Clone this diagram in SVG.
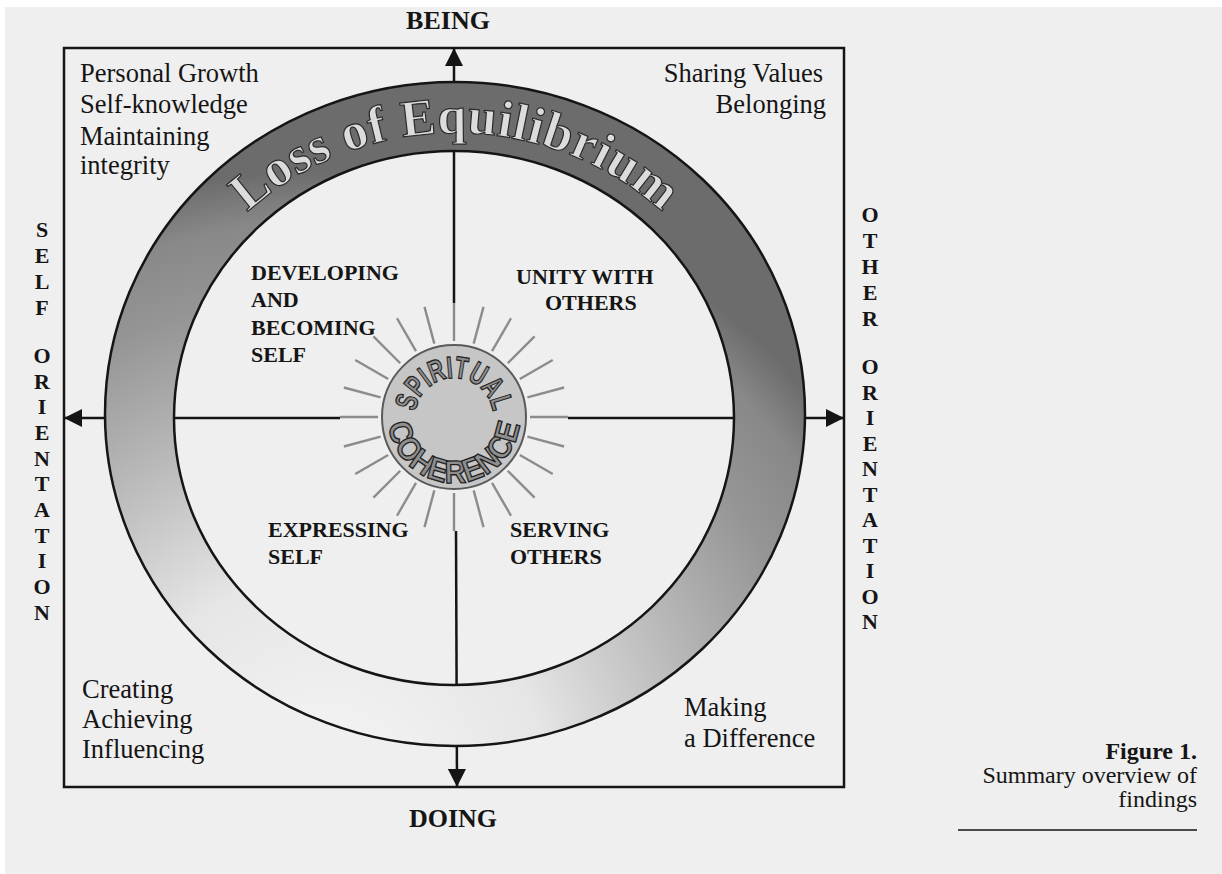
<svg xmlns="http://www.w3.org/2000/svg" width="1222" height="874" viewBox="0 0 1222 874">
<defs>
<style>
.serif{font-family:"Liberation Serif","Times New Roman",serif;fill:#151515}
.corner{font-size:26.5px}
.quad{font-size:22px;font-weight:bold}
.side{font-size:22px;font-weight:bold;text-anchor:middle}
.axisLbl{font-size:26px;font-weight:bold;text-anchor:middle}
.cap{font-size:24px;text-anchor:end}
.axis{stroke:#151515;stroke-width:2.5;fill:none}
.ray{stroke:#8c8c8c;stroke-width:2.4}
.sunText{font-family:"Liberation Sans Narrow","Liberation Sans",Arial,sans-serif;font-weight:bold;fill:#8e8e8e;stroke:#222222;stroke-width:1.3}
.loss{font-family:"Liberation Serif","Times New Roman",serif;font-weight:bold;font-size:52px;fill:#dcdcdc;stroke:#2a2a2a;stroke-width:1.2}
</style>
<marker id="arrow" markerUnits="userSpaceOnUse" markerWidth="18" markerHeight="18" refX="18" refY="9" orient="auto" viewBox="0 0 18 18">
<path d="M0,0 L18,9 L0,18 z" fill="#151515"/>
</marker>
<radialGradient id="ringGrad" gradientUnits="userSpaceOnUse" cx="330" cy="790" r="620">
<stop offset="0" stop-color="#f6f6f6"/>
<stop offset="0.35" stop-color="#e6e6e6"/>
<stop offset="0.6" stop-color="#b8b8b8"/>
<stop offset="0.8" stop-color="#959595"/>
<stop offset="0.92" stop-color="#888888"/>
<stop offset="1" stop-color="#6c6c6c"/>
</radialGradient>
<path id="lossPath" d="M155,418 A300,285 0 0 1 755,418"/>
<path id="spiritPath" d="M420.23,436.5 A39,39 0 1 1 487.77,436.5"/>
<path id="coherPath" d="M396.84,384 A66,66 0 1 0 511.16,384"/>
<line id="ray" class="ray" x1="530" y1="417" x2="568" y2="417"/>
</defs>

<rect x="0" y="0" width="1222" height="874" fill="#ffffff"/>
<rect x="5" y="7" width="1217" height="867" fill="#efefef"/>

<g id="frame">
<rect x="64" y="48" width="780" height="739" fill="none" stroke="#151515" stroke-width="2.5"/>
</g>

<g id="connectors">
<line class="axis" x1="454" y1="303" x2="454" y2="48" marker-end="url(#arrow)"/>
<line class="axis" x1="456" y1="531" x2="457" y2="787" marker-end="url(#arrow)"/>
<line class="axis" x1="340" y1="418" x2="64" y2="418" marker-end="url(#arrow)"/>
<line class="axis" x1="568" y1="418" x2="844" y2="418" marker-end="url(#arrow)"/>
</g>

<g id="ring">
<path d="M105,414 A350,332 0 1 0 805,414 A350,332 0 1 0 105,414 Z M174,418 A280,267 0 1 0 734,418 A280,267 0 1 0 174,418 Z" fill="url(#ringGrad)" fill-rule="evenodd" stroke="#151515" stroke-width="2.5"/>
<text class="loss" letter-spacing="0.5"><textPath href="#lossPath" startOffset="50%" text-anchor="middle">Loss of Equilibrium</textPath></text>
</g>

<g id="sun">
<use href="#ray"/>
<use href="#ray" transform="rotate(15 454 417)"/>
<use href="#ray" transform="rotate(30 454 417)"/>
<use href="#ray" transform="rotate(45 454 417)"/>
<use href="#ray" transform="rotate(60 454 417)"/>
<use href="#ray" transform="rotate(75 454 417)"/>
<use href="#ray" transform="rotate(90 454 417)"/>
<use href="#ray" transform="rotate(105 454 417)"/>
<use href="#ray" transform="rotate(120 454 417)"/>
<use href="#ray" transform="rotate(135 454 417)"/>
<use href="#ray" transform="rotate(150 454 417)"/>
<use href="#ray" transform="rotate(165 454 417)"/>
<use href="#ray" transform="rotate(180 454 417)"/>
<use href="#ray" transform="rotate(195 454 417)"/>
<use href="#ray" transform="rotate(210 454 417)"/>
<use href="#ray" transform="rotate(225 454 417)"/>
<use href="#ray" transform="rotate(240 454 417)"/>
<use href="#ray" transform="rotate(255 454 417)"/>
<use href="#ray" transform="rotate(270 454 417)"/>
<use href="#ray" transform="rotate(285 454 417)"/>
<use href="#ray" transform="rotate(300 454 417)"/>
<use href="#ray" transform="rotate(315 454 417)"/>
<use href="#ray" transform="rotate(330 454 417)"/>
<use href="#ray" transform="rotate(345 454 417)"/>
<circle cx="454" cy="417" r="72" fill="#c6c6c6" stroke="#5a5a5a" stroke-width="2"/>
<text class="sunText" font-size="31"><textPath href="#spiritPath" startOffset="50%" text-anchor="middle" textLength="112" lengthAdjust="spacingAndGlyphs">SPIRITUAL</textPath></text>
<text class="sunText" font-size="32"><textPath href="#coherPath" startOffset="50%" text-anchor="middle" textLength="192" lengthAdjust="spacingAndGlyphs">COHERENCE</textPath></text>
</g>

<g id="q-developing" class="serif quad">
<text x="251" y="280">DEVELOPING</text>
<text x="251" y="307">AND</text>
<text x="251" y="335">BECOMING</text>
<text x="251" y="362">SELF</text>
</g>
<g id="q-unity" class="serif quad">
<text x="516" y="284">UNITY WITH</text>
<text x="545" y="310">OTHERS</text>
</g>
<g id="q-expressing" class="serif quad">
<text x="268" y="537">EXPRESSING</text>
<text x="268" y="564">SELF</text>
</g>
<g id="q-serving" class="serif quad">
<text x="510" y="537">SERVING</text>
<text x="510" y="564">OTHERS</text>
</g>

<g id="c-topleft" class="serif corner">
<text x="80" y="82">Personal Growth</text>
<text x="80" y="113">Self-knowledge</text>
<text x="80" y="145">Maintaining</text>
<text x="80" y="174">integrity</text>
</g>
<g id="c-topright" class="serif corner" text-anchor="end">
<text x="823" y="82">Sharing Values</text>
<text x="826" y="113">Belonging</text>
</g>
<g id="c-bottomleft" class="serif corner">
<text x="82" y="698">Creating</text>
<text x="82" y="728">Achieving</text>
<text x="82" y="758">Influencing</text>
</g>
<g id="c-bottomright" class="serif corner">
<text x="684" y="716">Making</text>
<text x="684" y="747">a Difference</text>
</g>

<g id="lbl-being" class="serif axisLbl"><text x="448" y="29">BEING</text></g>
<g id="lbl-doing" class="serif axisLbl"><text x="453" y="827">DOING</text></g>

<g id="lbl-self" class="serif side">
<text x="42" y="237">S</text>
<text x="42" y="263">E</text>
<text x="42" y="289">L</text>
<text x="42" y="315">F</text>
<text x="42" y="363">O</text>
<text x="42" y="389">R</text>
<text x="42" y="414">I</text>
<text x="42" y="440">E</text>
<text x="42" y="466">N</text>
<text x="42" y="491">T</text>
<text x="42" y="517">A</text>
<text x="42" y="543">T</text>
<text x="42" y="568">I</text>
<text x="42" y="594">O</text>
<text x="42" y="620">N</text>
</g>
<g id="lbl-other" class="serif side">
<text x="870" y="222">O</text>
<text x="870" y="248">T</text>
<text x="870" y="274">H</text>
<text x="870" y="300">E</text>
<text x="870" y="326">R</text>
<text x="870" y="374">O</text>
<text x="870" y="400">R</text>
<text x="870" y="425">I</text>
<text x="870" y="451">E</text>
<text x="870" y="476">N</text>
<text x="870" y="502">T</text>
<text x="870" y="527">A</text>
<text x="870" y="553">T</text>
<text x="870" y="578">I</text>
<text x="870" y="604">O</text>
<text x="870" y="629">N</text>
</g>

<g id="caption" class="serif cap">
<text x="1197" y="759" font-weight="bold">Figure 1.</text>
<text x="1197" y="783">Summary overview of</text>
<text x="1197" y="807">findings</text>
<line x1="958" y1="830" x2="1197" y2="830" stroke="#151515" stroke-width="1.6"/>
</g>
</svg>
